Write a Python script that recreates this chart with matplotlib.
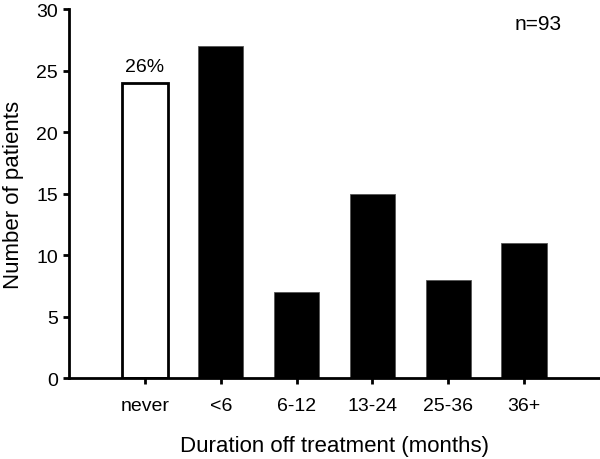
import matplotlib
matplotlib.use('Agg')
import matplotlib.pyplot as plt
import numpy as np

plt.rcParams['font.family'] = ['Liberation Sans', 'DejaVu Sans']

categories = ['never', '<6', '6-12', '13-24', '25-36', '36+']
patients = [24, 27, 7, 15, 8, 11]
never_pct = '26%'
n_total = 'n=93'

fig = plt.figure(figsize=(6, 4.6), dpi=100)
ax = fig.add_axes([0.115, 0.176, 0.885, 0.802])

x = np.arange(len(categories))
colors = ['white'] + ['black'] * (len(categories) - 1)
edges = ['black'] + ['#555555'] * (len(categories) - 1)
lws = [2.0] + [0.6] * (len(categories) - 1)
ax.bar(x, patients, width=0.6, color=colors, edgecolor=edges, linewidth=lws, zorder=2)

ax.text(x[0], patients[0] + 1.0, never_pct, ha='center', va='baseline', fontsize=14)
ax.text(5.18, 28.8, n_total, ha='center', va='center', fontsize=15)

ax.set_xlim(-1, 6)
ax.set_ylim(0, 30)
ax.set_yticks(range(0, 31, 5))
ax.set_xticks(x)
ax.set_xticklabels(categories)

for side in ['top', 'right']:
    ax.spines[side].set_visible(False)
for side in ['left', 'bottom']:
    ax.spines[side].set_linewidth(2.0)

ax.tick_params(axis='both', length=4, width=2, labelsize=14, direction='out')
ax.tick_params(axis='x', pad=10)
ax.tick_params(axis='y', pad=4)

ax.set_ylabel('Number of patients', fontsize=16)
ax.yaxis.set_label_coords(-0.085, 0.5)
ax.set_xlabel('Duration off treatment (months)', fontsize=16, labelpad=15)

fig.savefig('out.png', dpi=100)
